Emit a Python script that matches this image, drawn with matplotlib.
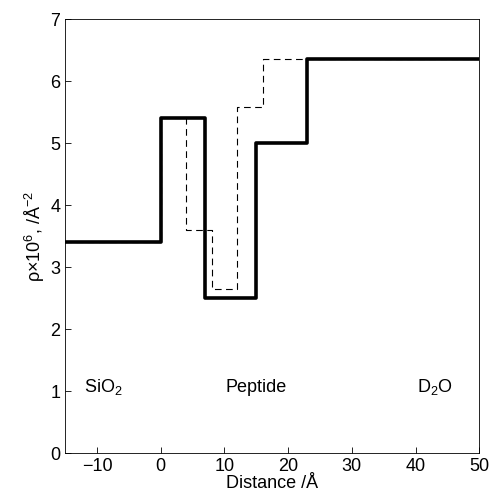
import matplotlib
matplotlib.use("Agg")
import matplotlib.pyplot as plt

plt.rcParams['font.family'] = ['Liberation Sans', 'DejaVu Sans']
plt.rcParams['mathtext.fontset'] = 'custom'
plt.rcParams['mathtext.rm'] = 'Liberation Sans'
plt.rcParams['mathtext.it'] = 'Liberation Sans'

# layer profiles: step edges (Å) and SLD values (x10^6 Å^-2)
solid_edges = [-15, 0, 7, 15, 23, 50]
solid_rho = [3.4, 5.4, 2.5, 5.0, 6.35]

dash_edges = [-15, 0, 4, 8, 12, 16, 50]
dash_rho = [3.4, 5.4, 3.6, 2.65, 5.58, 6.35]

labels = ["SiO$_{\\mathsf{2}}$", "Peptide", "D$_{\\mathsf{2}}$O"]
labels = ["SiO$_2$", "Peptide", "D$_2$O"]
label_x = [-12.1, 10.1, 40.2]
label_y = 1.06


def steps(edges, vals):
    xs, ys = [], []
    for i, v in enumerate(vals):
        xs += [edges[i], edges[i + 1]]
        ys += [v, v]
    return xs, ys


fig = plt.figure(figsize=(4.9, 5.0), dpi=100)
ax = fig.add_axes([0.133, 0.094, 0.845, 0.868])

x, y = steps(dash_edges, dash_rho)
ax.plot(x, y, color='black', lw=0.8, dashes=(6, 4))
x, y = steps(solid_edges, solid_rho)
ax.plot(x, y, color='black', lw=2.6)

for t, tx in zip(labels, label_x):
    ax.text(tx, label_y, t, fontsize=13, ha='left', va='center')

ax.set_xlim(-15, 50)
ax.set_ylim(0, 7)
ax.set_xticks(range(-10, 51, 10))
ax.set_xticklabels(['\u221210', '0', '10', '20', '30', '40', '50'])
ax.set_yticks(range(0, 8))
ax.tick_params(direction='in', labelsize=13, length=4, width=0.6)
for s in ax.spines.values():
    s.set_linewidth(0.6)

ax.set_xlabel('Distance /Å', fontsize=13, labelpad=0)
ax.set_ylabel('ρ×10$^6$, /Å$^{-2}$', fontsize=13, labelpad=2)

fig.savefig('out.png', dpi=100)
